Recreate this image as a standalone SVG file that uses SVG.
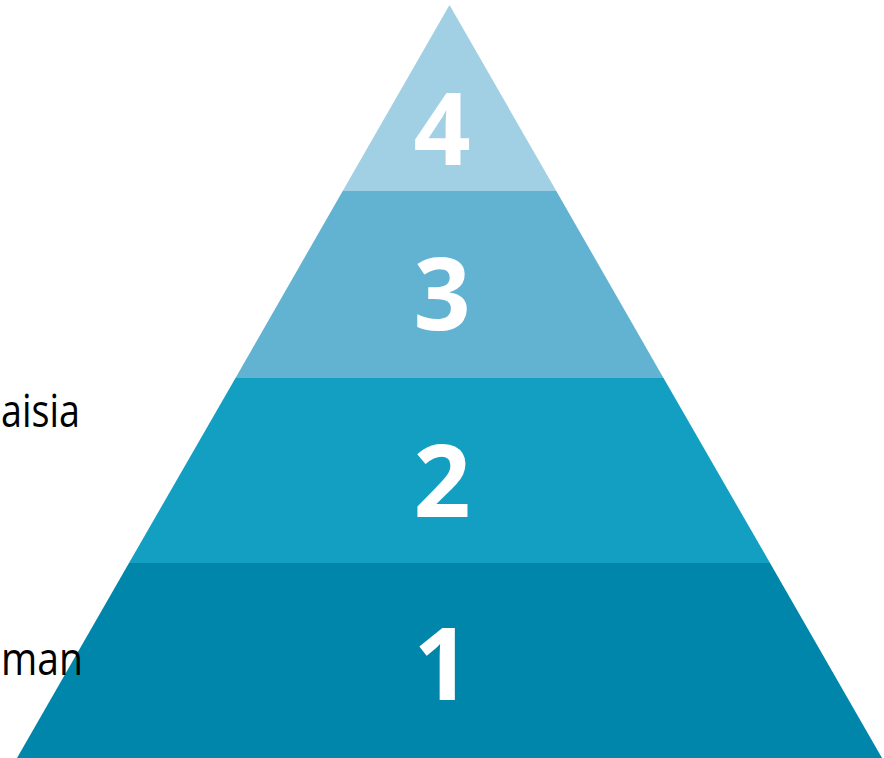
<svg xmlns="http://www.w3.org/2000/svg" width="884" height="758" viewBox="0 0 884 758">
<style>
.num{font-family:"Open Sans","Noto Sans",sans-serif;font-weight:bold;font-size:100px;fill:#ffffff;text-anchor:middle}
.lbl{font-family:"Open Sans","Noto Sans",sans-serif;font-size:45px;fill:#000000}
</style>
<rect width="884" height="758" fill="#ffffff"/>
<g id="level4">
<polygon points="449.5,5 556.3,191 342.7,191" fill="#A1CFE3"/>
<text class="num" x="442" y="165">4</text>
</g>
<g id="level3">
<polygon points="342.7,191 556.3,191 663.5,378 235.5,378" fill="#62B3D1"/>
<text class="num" x="442" y="330">3</text>
</g>
<g id="level2">
<polygon points="235.5,378 663.5,378 770,563 129,563" fill="#139FC2"/>
<text class="num" x="442" y="517">2</text>
</g>
<g id="level1">
<polygon points="129,563 770,563 882,758 17,758" fill="#0086AA"/>
<text class="num" x="442" y="700">1</text>
</g>
<g id="labels">
<text class="lbl" x="1" y="427" textLength="79" lengthAdjust="spacingAndGlyphs">aisia</text>
<text class="lbl" x="1" y="675" textLength="82" lengthAdjust="spacingAndGlyphs">man</text>
</g>
<g id="connectors"/>
</svg>
